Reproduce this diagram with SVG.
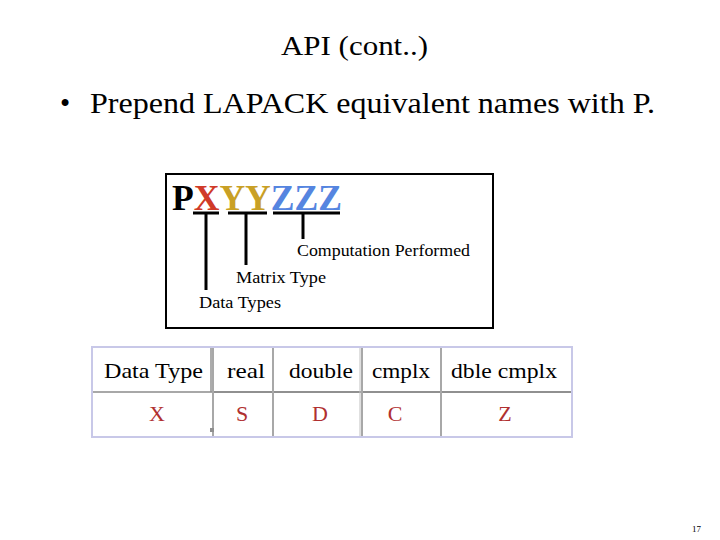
<svg xmlns="http://www.w3.org/2000/svg" width="720" height="540" viewBox="0 0 720 540">
<style>
text{font-family:"Liberation Serif","Times New Roman",serif;fill:#000}
.lbl{font-size:17px}
.hd{font-size:22px}
.cell{font-size:22px;fill:#b03030;text-anchor:middle}
.ul{stroke:#000;stroke-width:3}
.grid{stroke:#a8a8a8;stroke-width:2}
</style>
<rect width="720" height="540" fill="#fff"/>
<text x="281" y="55" font-size="28" textLength="147" lengthAdjust="spacingAndGlyphs">API (cont..)</text>
<text x="60" y="113" font-size="29">•</text>
<text x="90" y="113" font-size="29" textLength="565" lengthAdjust="spacingAndGlyphs">Prepend LAPACK equivalent names with P.</text>
<g id="naming-box">
<rect x="166" y="174" width="327" height="154" fill="#fff" stroke="#000" stroke-width="2"/>
<text x="172" y="210" font-size="36" font-weight="bold" textLength="170" lengthAdjust="spacingAndGlyphs"><tspan fill="#000">P</tspan><tspan fill="#d03a28">X</tspan><tspan fill="#c9a025">YY</tspan><tspan fill="#5585e0">ZZZ</tspan></text>
</g>
<g id="connectors">
<line class="ul" x1="193" y1="213" x2="219" y2="213"/>
<line class="ul" x1="228" y1="213" x2="267" y2="213"/>
<line class="ul" x1="273" y1="213" x2="340" y2="213"/>
<line class="ul" x1="206" y1="213" x2="206" y2="290"/>
<line class="ul" x1="246" y1="213" x2="246" y2="265"/>
<line class="ul" x1="303" y1="213" x2="303" y2="239"/>
</g>
<g id="label-computation"><text class="lbl" x="297" y="256" textLength="173" lengthAdjust="spacingAndGlyphs">Computation Performed</text></g>
<g id="label-matrix"><text class="lbl" x="236" y="283" textLength="90" lengthAdjust="spacingAndGlyphs">Matrix Type</text></g>
<g id="label-data"><text class="lbl" x="199" y="308" textLength="82" lengthAdjust="spacingAndGlyphs">Data Types</text></g>
<g id="table">
<rect x="92" y="347" width="480" height="90" fill="#fff" stroke="#c8c8e8" stroke-width="2"/>
<line class="grid" x1="93" y1="392" x2="213" y2="392" stroke="#b8b8b8"/>
<line x1="213" y1="392" x2="571" y2="392" stroke="#909090" stroke-width="2"/>
<line class="grid" x1="213" y1="348" x2="213" y2="436"/>
<line x1="211" y1="348" x2="211" y2="392" stroke="#909090" stroke-width="1.5"/>
<line class="grid" x1="273" y1="348" x2="273" y2="436"/>
<line class="grid" x1="362" y1="348" x2="362" y2="436"/>
<line x1="360" y1="348" x2="360" y2="436" stroke="#c0c0c0" stroke-width="1"/>
<line class="grid" x1="441" y1="348" x2="441" y2="436"/>
<rect x="210" y="428" width="4" height="4" fill="#909090"/>
<text class="hd" x="104" y="378" textLength="99" lengthAdjust="spacingAndGlyphs">Data Type</text>
<text class="hd" x="227" y="378" textLength="38" lengthAdjust="spacingAndGlyphs">real</text>
<text class="hd" x="289" y="378" textLength="64" lengthAdjust="spacingAndGlyphs">double</text>
<text class="hd" x="372" y="378" textLength="58" lengthAdjust="spacingAndGlyphs">cmplx</text>
<text class="hd" x="451" y="378" textLength="106" lengthAdjust="spacingAndGlyphs">dble cmplx</text>
<text class="cell" x="157" y="421">X</text>
<text class="cell" x="242" y="421">S</text>
<text class="cell" x="320" y="421">D</text>
<text class="cell" x="395" y="421">C</text>
<text class="cell" x="505" y="421">Z</text>
</g>
<text x="692" y="532" font-size="9">17</text>
</svg>
